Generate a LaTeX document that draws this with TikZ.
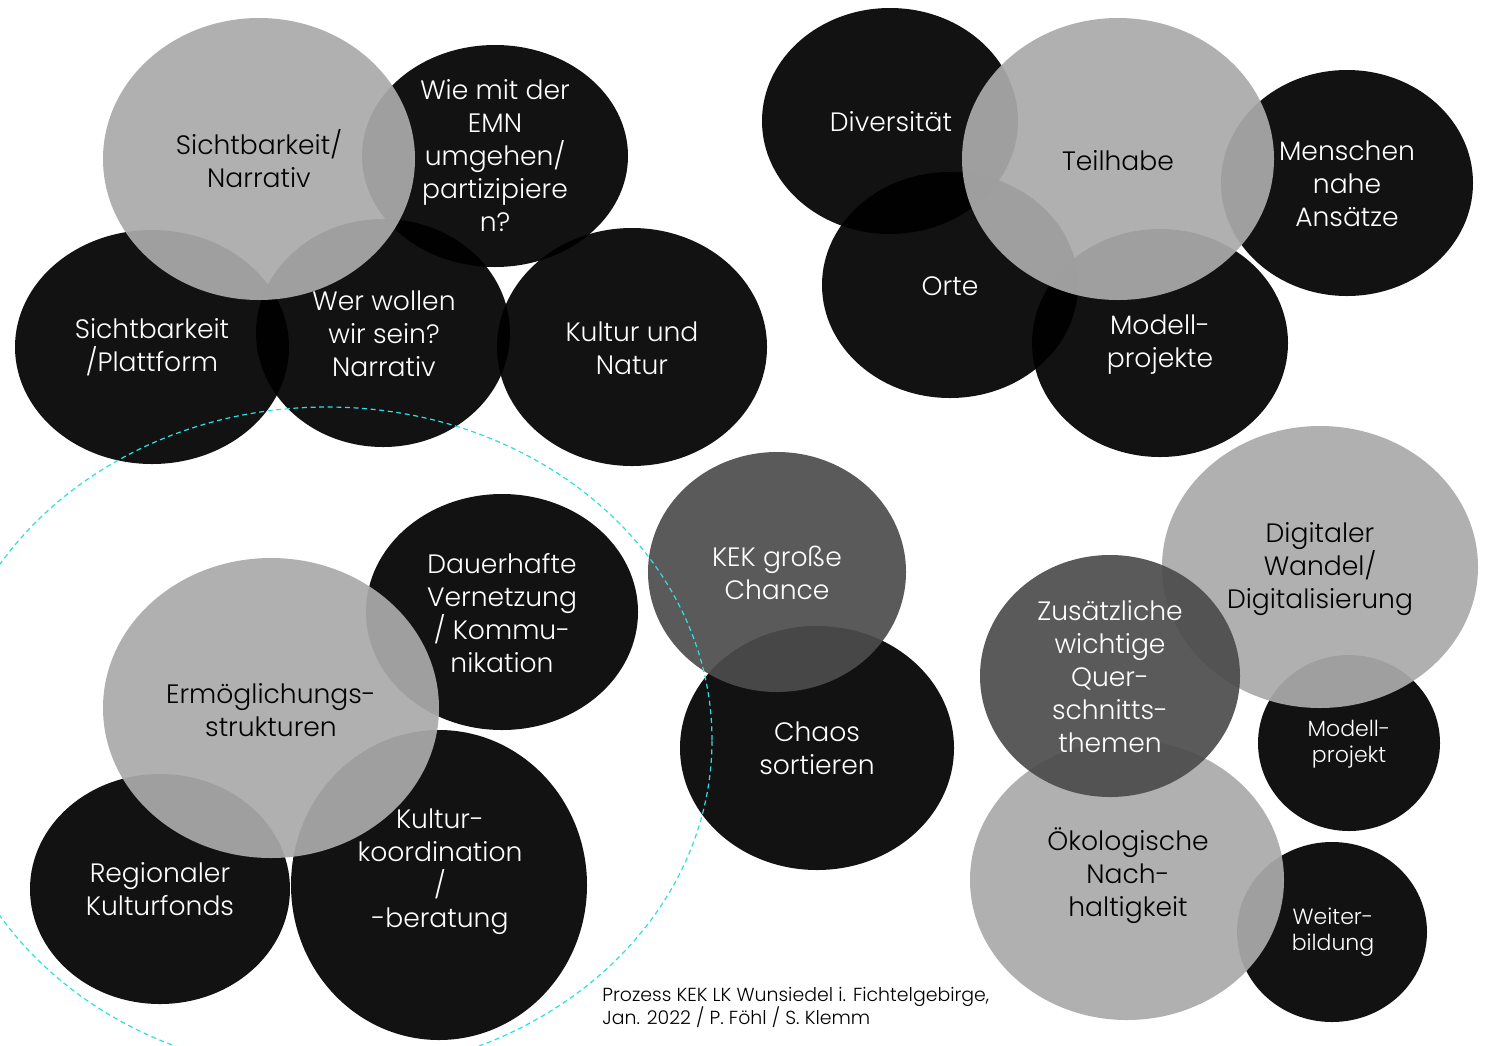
\documentclass[tikz,border=0pt]{standalone}
\usepackage{fontspec}
\setmainfont{Poppins}[UprightFont={* Light}]
\usetikzlibrary{shapes.geometric}
\definecolor{gry}{HTML}{AAAAAA}
\definecolor{drk}{HTML}{4C4C4C}
\definecolor{cy}{HTML}{2EE0E0}
\begin{document}
\begin{tikzpicture}[x=0.5pt,y=-0.5pt,
 blob/.style={ellipse, inner sep=0pt, draw=none},
 bk/.style={blob, fill=black, fill opacity=0.93},
 gy/.style={blob, fill=gry, fill opacity=0.93},
 dk/.style={blob, fill=drk, fill opacity=0.92},
 lab/.style={align=center, inner sep=0pt, font=\fontsize{13.3}{16.5}\selectfont},
 wl/.style={lab, text=white},
 bl/.style={lab, text=black},
 small/.style={font=\fontsize{11}{13}\selectfont}]
\useasboundingbox (0,0) rectangle (1488,1045);
\fill[white] (0,0) rectangle (1488,1045);
\clip (0,0) rectangle (1488,1045);
% top-left group
\node[bk, minimum width=137pt, minimum height=117pt] (splat) at (152,347) {};
\node[bk, minimum width=127pt, minimum height=114pt] (wer) at (383,333) {};
\node[bk, minimum width=135pt, minimum height=119pt] (kun) at (632,347) {};
\node[bk, minimum width=133pt, minimum height=111pt] (wie) at (495,156) {};
\node[gy, minimum width=156pt, minimum height=141pt] (snar) at (259,159) {};
% top-right group
\node[bk, minimum width=128pt, minimum height=113pt] (div) at (890,121) {};
\node[bk, minimum width=128pt, minimum height=113pt] (orte) at (950,285) {};
\node[bk, minimum width=126pt, minimum height=113pt] (mens) at (1347,183) {};
\node[bk, minimum width=128pt, minimum height=114pt] (modp) at (1160,343) {};
\node[gy, minimum width=156pt, minimum height=141pt] (teil) at (1118,159) {};
% middle
\node[bk, minimum width=137pt, minimum height=122pt] (chaos) at (817,748) {};
\node[dk, minimum width=129pt, minimum height=120pt] (kek) at (777,572) {};
% bottom-left group
\node[bk, minimum width=136pt, minimum height=118pt] (dauer) at (502,612) {};
\node[bk, minimum width=130pt, minimum height=115pt] (regio) at (160,889) {};
\node[bk, minimum width=148pt, minimum height=155pt] (koord) at (439,885) {};
\node[gy, minimum width=168pt, minimum height=150pt] (ermo) at (271,708) {};
% bottom-right group
\node[bk, minimum width=91pt, minimum height=88pt] (mproj) at (1349,743) {};
\node[bk, minimum width=95pt, minimum height=90pt] (weit) at (1332,932) {};
\node[gy, minimum width=158pt, minimum height=141pt] (digi) at (1320,567) {};
\node[gy, minimum width=157pt, minimum height=140pt] (oeko) at (1127,880) {};
\node[dk, minimum width=130pt, minimum height=121pt] (zus) at (1110,676) {};
% dashed outline
\draw[cy, line width=0.6pt, dash pattern=on 2.5pt off 1.8pt] (327,740) ellipse [x radius=192.5pt, y radius=166.5pt];
% labels
\node[bl] (tsnar) at (snar.center) {Sichtbarkeit/\\Narrativ};
\node[wl] (twie) at (wie.center) {Wie mit der\\EMN\\umgehen/\\partizipiere\\n?};
\node[wl] (tsplat) at (splat.center) {Sichtbarkeit\\/Plattform};
\node[wl] (twer) at (384,334) {Wer wollen\\wir sein?\\Narrativ};
\node[wl] (tkun) at (632,348) {Kultur und\\Natur};
\node[wl] (tdiv) at (891,122) {Diversität};
\node[bl] (tteil) at (1118,161) {Teilhabe};
\node[wl] (tmens) at (1347,184) {Menschen\\nahe\\Ansätze};
\node[wl] (torte) at (950,286) {Orte};
\node[wl] (tmodp) at (1160,345) {Modell-\\projekte};
\node[wl] (tkek) at (777,573) {KEK große\\Chance};
\node[wl] (tchaos) at (817,748) {Chaos\\sortieren};
\node[wl] (tdauer) at (502,613) {Dauerhafte\\Vernetzung\\/ Kommu-\\nikation};
\node[bl] (termo) at (271,710) {Ermöglichungs-\\strukturen};
\node[wl] (tregio) at (160,889) {Regionaler\\Kulturfonds};
\node[wl] (tkoord) at (440,872) {Kultur-\\koordination\\/\\-beratung};
\node[bl] (tdigi) at (1320,569) {Digitaler\\Wandel/\\Digitalisierung};
\node[wl] (tzus) at (1110,677) {Zusätzliche\\wichtige\\Quer-\\schnitts-\\themen};
\node[wl, small] (tmproj) at (1349,744) {Modell-\\projekt};
\node[bl] (toeko) at (1128,876) {Ökologische\\Nach-\\haltigkeit};
\node[wl, small] (tweit) at (1333,932) {Weiter-\\bildung};
% footnote
\node[anchor=west, align=left, inner sep=0pt, font=\fontsize{9.45}{11.5}\selectfont] (foot) at (602,1007) {Prozess KEK LK Wunsiedel i. Fichtelgebirge,\\Jan. 2022 / P. Föhl / S. Klemm};
\end{tikzpicture}
\end{document}
